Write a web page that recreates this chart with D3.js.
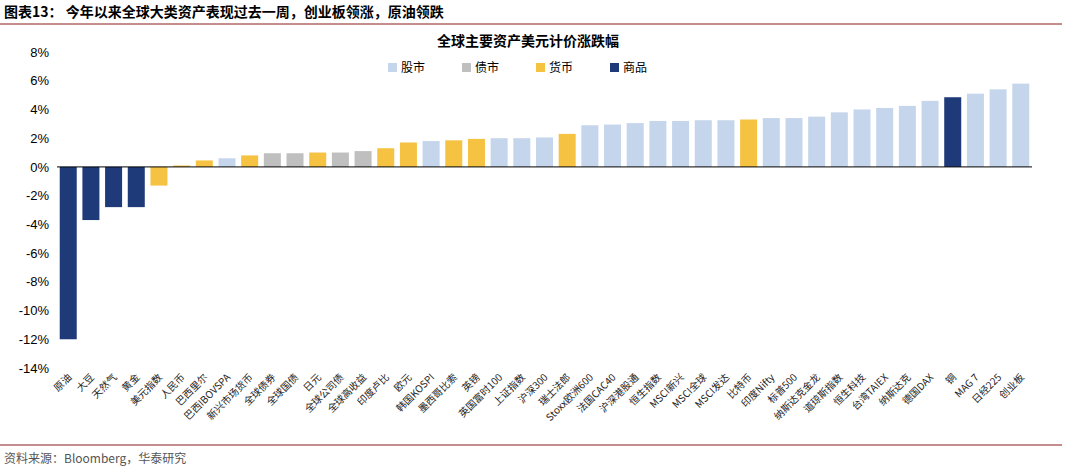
<!DOCTYPE html>
<html><head><meta charset="utf-8">
<script src="https://cdn.jsdelivr.net/npm/d3@7"></script>
<style>body{margin:0;background:#fff;font-family:"Noto Sans CJK SC","Liberation Sans",sans-serif;}</style>
</head><body>
<script>
var names = ["原油","大豆","天然气","黄金","美元指数","人民币","巴西里尔","巴西IBOVSPA","新兴市场货币","全球债券","全球国债","日元","全球公司债","全球高收益","印度卢比","欧元","韩国KOSPI","墨西哥比索","英镑","英国富时100","上证指数","沪深300","瑞士法郎","Stoxx欧洲600","法国CAC40","沪深港股通","恒生指数","MSCI新兴","MSCI全球","MSCI发达","比特币","印度Nifty","标普500","纳斯达克金龙","道琼斯指数","恒生科技","台湾TAIEX","纳斯达克","德国DAX","铜","MAG 7","日经225","创业板"];
var values = [-12,-3.7,-2.8,-2.8,-1.3,0.1,0.45,0.6,0.8,0.95,0.95,1.0,1.0,1.1,1.3,1.7,1.8,1.85,1.95,2.0,2.0,2.05,2.3,2.9,2.95,3.05,3.2,3.2,3.25,3.25,3.3,3.4,3.4,3.5,3.8,4.0,4.1,4.25,4.6,4.85,5.1,5.4,5.8];
var types = ["商品","商品","商品","商品","货币","货币","货币","股市","货币","债市","债市","货币","债市","债市","货币","货币","股市","货币","货币","股市","股市","股市","货币","股市","股市","股市","股市","股市","股市","股市","货币","股市","股市","股市","股市","股市","股市","股市","股市","商品","股市","股市","股市"];
var legendKeys = ["股市","债市","货币","商品"];
var legendColors = ["#c5d6ec","#bfbfbf","#f5c242","#1f3a78"];
var yTicks = [8,6,4,2,0,-2,-4,-6,-8,-10,-12,-14];

var svg = d3.select("body").append("svg").attr("width",1080).attr("height",475);

svg.append("text").attr("x",4).attr("y",17).attr("font-size",14).attr("font-weight","bold")
  .text("图表13：  今年以来全球大类资产表现过去一周，创业板领涨，原油领跌");
svg.append("line").attr("x1",0).attr("x2",1062).attr("y1",24).attr("y2",24).attr("stroke","#8a1a1a").attr("stroke-width",1);
svg.append("line").attr("x1",0).attr("x2",1062).attr("y1",445).attr("y2",445).attr("stroke","#8a1a1a").attr("stroke-width",1);
svg.append("text").attr("x",4).attr("y",463).attr("font-size",12).attr("fill","#555")
  .text("资料来源：Bloomberg，华泰研究");

svg.append("text").attr("x",528).attr("y",46).attr("text-anchor","middle").attr("font-size",14).attr("font-weight","bold")
  .text("全球主要资产美元计价涨跌幅");

var color = d3.scaleOrdinal().domain(legendKeys).range(legendColors);
var x = d3.scaleBand().domain(names).range([57,1032]).paddingInner(0.25).paddingOuter(0.12);
var y = d3.scaleLinear().domain([-14,8]).range([368,52]);

var yAxis = svg.append("g").attr("transform","translate(57,0)")
  .call(d3.axisLeft(y).tickValues(yTicks).tickSize(0).tickPadding(8).tickFormat(function(d){return d+"%";}));
yAxis.select(".domain").remove();
yAxis.selectAll("text").attr("font-size",13).attr("font-family","Liberation Sans").attr("fill","#000");

svg.append("g").selectAll("rect").data(names).join("rect")
  .attr("x",function(d){return x(d);})
  .attr("width",x.bandwidth())
  .attr("y",function(d,i){return y(Math.max(0,values[i]));})
  .attr("height",function(d,i){return Math.abs(y(values[i])-y(0));})
  .attr("fill",function(d,i){return color(types[i]);});

svg.append("line").attr("x1",57).attr("x2",1032).attr("y1",y(0)).attr("y2",y(0)).attr("stroke","#000");

svg.append("g").selectAll("text").data(names).join("text")
  .attr("transform",function(d){return "translate("+(x(d)+x.bandwidth()/2+4)+",378) rotate(-45)";})
  .attr("text-anchor","end").attr("font-size",10).attr("fill","#222")
  .text(function(d){return d;});

var lg = svg.append("g").selectAll("g").data(legendKeys).join("g")
  .attr("transform",function(d,i){return "translate("+(388+i*74)+",63)";});
lg.append("rect").attr("width",9).attr("height",9).attr("fill",function(d){return color(d);});
lg.append("text").attr("x",13).attr("y",9).attr("font-size",12).text(function(d){return d;});
</script>
</body></html>
